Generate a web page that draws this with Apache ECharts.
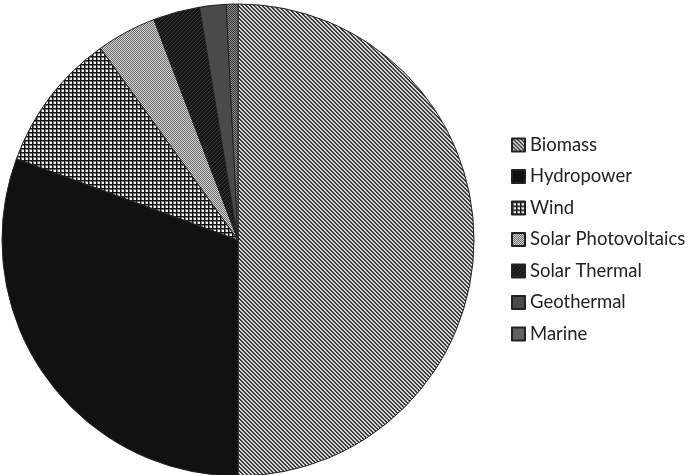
<!DOCTYPE html>
<html><head><meta charset="utf-8">
<script src="https://cdn.jsdelivr.net/npm/echarts@6/dist/echarts.min.js"></script>
<style>html,body{margin:0;padding:0;background:#fff}#c{width:688px;height:475px}</style>
</head><body><div id="c"></div>
<script>
var categories = ['Biomass','Hydropower','Wind','Solar Photovoltaics','Solar Thermal','Geothermal','Marine'];
var values = [50.0, 30.6, 9.5, 4.1, 3.2, 1.8, 0.8];

function tile(size, fn){
  var c=document.createElement('canvas'); c.width=size; c.height=size;
  var ctx=c.getContext('2d');
  for(var y=0;y<size;y++)for(var x=0;x<size;x++){ctx.fillStyle=fn(x,y);ctx.fillRect(x,y,1,1);}
  return {image:c, repeat:'repeat'};
}
var patterns = [
  tile(4,function(x,y){return ((x-y+8)%4===0||(x-y+8)%4===1)?'#3a3a3a':'#d8d8d8';}),
  '#111111',
  tile(4,function(x,y){return (x<1||y<1)?'#111111':(x===1||y===1?'#777777':'#f4f4f4');}),
  tile(4,function(x,y){return ((x+y)%2===0)?'#707070':'#d0d0d0';}),
  tile(4,function(x,y){return ((x+y)%4===0)?'#3a3a3a':'#161616';}),
  '#4a4a4a',
  tile(2,function(x,y){return ((x+y)%2===0)?'#3a3a3a':'#8a8a8a';})
];

var chart = echarts.init(document.getElementById('c'));
chart.setOption({
  animation:false,
  legend:{
    orient:'vertical', left:511, top:135, padding:0, itemWidth:13, itemHeight:13, itemGap:11.5,
    icon:'rect', data:categories,
    textStyle:{fontSize:18.5, lineHeight:20, color:'#222', fontFamily:'Lato'}
  },
  series:[{
    type:'pie', center:[238,240], radius:[0,236], startAngle:90, clockwise:true,
    label:{show:false}, labelLine:{show:false},
    itemStyle:{borderColor:'#222', borderWidth:1},
    emphasis:{disabled:true},
    data: categories.map(function(n,i){return {name:n, value:values[i], itemStyle:{color:patterns[i]}};})
  }]
});
</script></body></html>
